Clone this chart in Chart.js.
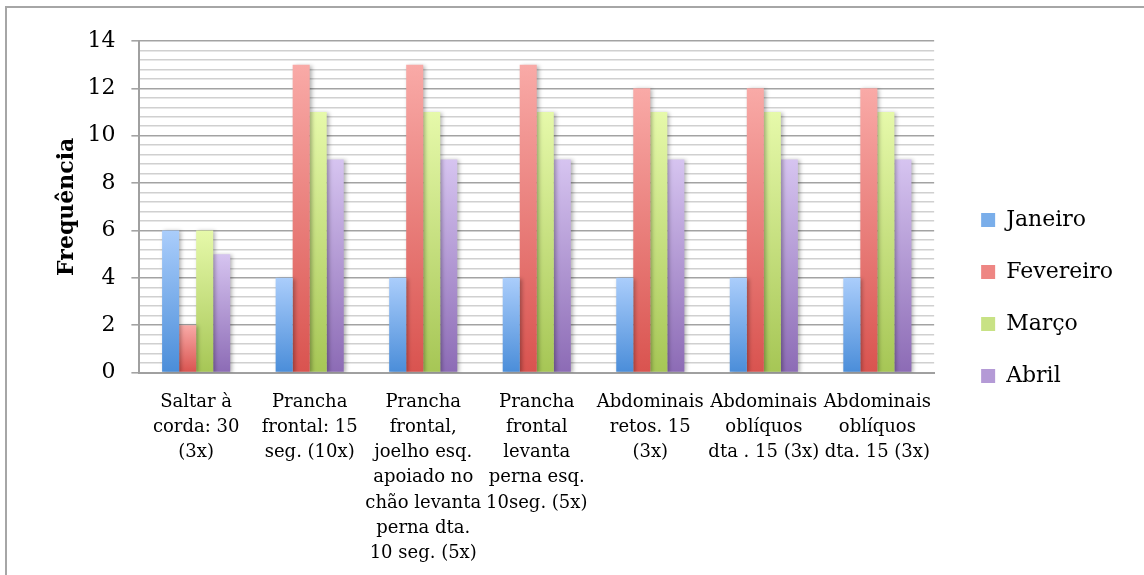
<!DOCTYPE html>
<html>
<head>
<meta charset="utf-8">
<script src="https://cdn.jsdelivr.net/npm/chart.js@4"></script>
<style>
  html, body { margin: 0; padding: 0; background: #fff; }
  #wrap { position: relative; width: 1144px; height: 575px; }
  #frame { position: absolute; left: 5px; top: 6px; right: -10px; bottom: -10px;
           border-left: 2px solid #a6a6a6; border-top: 2px solid #a6a6a6; pointer-events: none; }
</style>
</head>
<body>
<div id="wrap">
  <canvas id="chart" width="1144" height="575"></canvas>
  <div id="frame"></div>
</div>
<script>
const categories = [
  ["Saltar à", "corda: 30", "(3x)"],
  ["Prancha", "frontal: 15", "seg. (10x)"],
  ["Prancha", "frontal,", "joelho esq.", "apoiado no", "chão levanta", "perna dta.", "10 seg. (5x)"],
  ["Prancha", "frontal", "levanta", "perna esq.", "10seg. (5x)"],
  ["Abdominais", "retos. 15", "(3x)"],
  ["Abdominais", "oblíquos", "dta . 15 (3x)"],
  ["Abdominais", "oblíquos", "dta. 15 (3x)"]
];
const janeiro   = [6, 4, 4, 4, 4, 4, 4];
const fevereiro = [2, 13, 13, 13, 12, 12, 12];
const marco     = [6, 11, 11, 11, 11, 11, 11];
const abril     = [5, 9, 9, 9, 9, 9, 9];
const yTicks    = [0, 2, 4, 6, 8, 10, 12, 14];

const serif = "'DejaVu Serif', serif";

// light top -> dark bottom, per bar
function barGradient(top, bottom) {
  return function (c) {
    if (c.type !== 'data') return bottom;
    const chart = c.chart;
    const ys = chart.scales.y;
    if (!ys || !chart.chartArea) return bottom;
    const y0 = ys.getPixelForValue(0);
    const y1 = ys.getPixelForValue(c.raw);
    if (!isFinite(y0) || !isFinite(y1) || y0 === y1) return bottom;
    const g = chart.ctx.createLinearGradient(0, y1, 0, y0);
    g.addColorStop(0, top);
    g.addColorStop(1, bottom);
    return g;
  };
}

function isMajor(v) {
  return yTicks.some(t => Math.abs(t - v) < 1e-6);
}

const barShadow = {
  id: 'barShadow',
  beforeDatasetsDraw(chart) {
    const ctx = chart.ctx;
    ctx.save();
    ctx.shadowColor = 'rgba(0,0,0,0.3)';
    ctx.shadowBlur = 4;
    ctx.shadowOffsetX = 2;
    ctx.shadowOffsetY = 1;
  },
  afterDatasetsDraw(chart) {
    chart.ctx.restore();
  }
};

// nudge the legend a bit further from the plot, like the original
const legendNudge = {
  id: 'legendNudge',
  afterLayout(chart) {
    const lg = chart.legend;
    if (!lg) return;
    lg.left += 17; lg.right += 17;
    lg.top -= 14; lg.bottom -= 14;
  }
};

const series = [
  { label: 'Janeiro',   data: janeiro,   top: '#aacdfb', bottom: '#4a8dd9', mid: '#7aaeea' },
  { label: 'Fevereiro', data: fevereiro, top: '#f9aaa7', bottom: '#d9534f', mid: '#ee8683' },
  { label: 'Março',     data: marco,     top: '#e6f9aa', bottom: '#a6c655', mid: '#c8e285' },
  { label: 'Abril',     data: abril,     top: '#d6c4f0', bottom: '#8c6bb5', mid: '#b49ad6' }
];

new Chart(document.getElementById('chart'), {
  type: 'bar',
  data: {
    labels: categories,
    datasets: series.map(s => ({
      label: s.label,
      data: s.data,
      backgroundColor: barGradient(s.top, s.bottom),
      borderWidth: 0,
      categoryPercentage: 0.6,
      barPercentage: 1
    }))
  },
  options: {
    responsive: false,
    animation: false,
    layout: { padding: { top: 41, left: 54, right: 38, bottom: -8 } },
    plugins: {
      tooltip: { enabled: false },
      legend: {
        position: 'right',
        labels: {
          color: '#000',
          font: { family: serif, size: 22 },
          boxWidth: 14,
          boxHeight: 14,
          padding: 30,
          generateLabels() {
            return series.map((s, i) => ({
              text: s.label,
              fillStyle: s.mid,
              strokeStyle: 'rgba(0,0,0,0)',
              lineWidth: 0,
              datasetIndex: i,
              hidden: false
            }));
          }
        }
      }
    },
    scales: {
      x: {
        grid: { display: false, drawTicks: false },
        border: { display: true, color: '#a0a0a0', width: 2 },
        ticks: {
          color: '#000',
          font: { family: serif, size: 18, lineHeight: 1.4 },
          padding: 17,
          maxRotation: 0,
          minRotation: 0,
          autoSkip: false
        }
      },
      y: {
        min: 0,
        max: 14,
        title: {
          display: true,
          text: 'Frequência',
          color: '#000',
          font: { family: serif, size: 22, weight: 'bold' },
          padding: { top: 0, bottom: -9 }
        },
        border: { display: true, color: '#a0a0a0', width: 2 },
        grid: {
          tickLength: 8,
          color: c => isMajor(c.tick.value) ? '#a3a3a3' : '#d0d0d0',
          lineWidth: 1.6,
          tickColor: c => isMajor(c.tick.value) ? '#a3a3a3' : 'rgba(0,0,0,0)'
        },
        ticks: {
          stepSize: 0.4,
          autoSkip: false,
          color: '#000',
          padding: 16,
          font: { family: serif, size: 22 },
          callback: v => isMajor(v) ? String(Math.round(v)) : ''
        }
      }
    }
  },
  plugins: [barShadow, legendNudge]
});
</script>
</body>
</html>
